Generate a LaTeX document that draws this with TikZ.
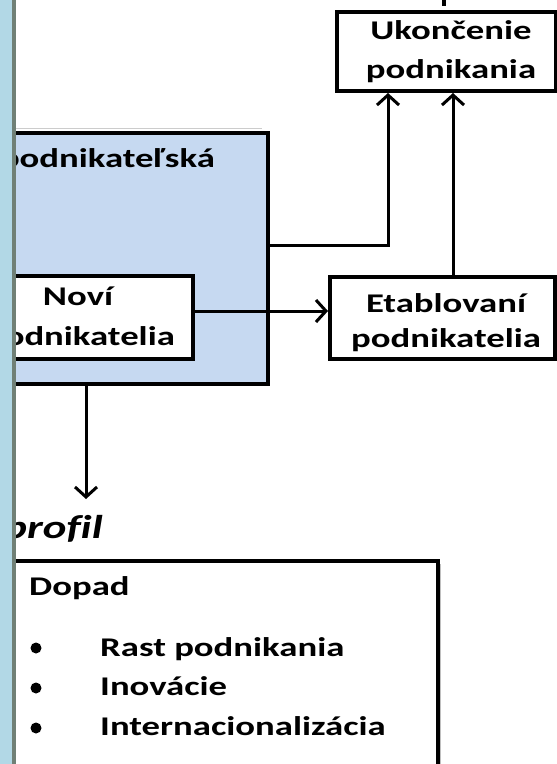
\documentclass[tikz,border=0pt]{standalone}
\usepackage{fontspec}
\setmainfont{Carlito}
\usetikzlibrary{arrows.meta}
\definecolor{boxblue}{RGB}{198,217,241}
\definecolor{stripblue}{RGB}{178,216,230}
\definecolor{stripgray}{RGB}{112,128,118}
\newcommand{\wtxt}[1]{\scalebox{1.36}[1]{#1}}
\begin{document}
\begin{tikzpicture}[x=1pt,y=-1pt,
  box/.style={draw=black, line width=4pt, fill=white, inner sep=0pt},
  conn/.style={line width=3pt, -{Straight Barb[length=10pt,width=22pt]}},
  lbl/.style={font=\bfseries\fontsize{27}{27}\selectfont, inner sep=0pt},
]
\useasboundingbox (0,0) rectangle (557,764);
\fill[white] (0,0) rectangle (557,764);
\fill[stripblue] (0,0) rectangle (12,764);
\fill[stripgray] (12,0) rectangle (16,764);
\begin{scope}
\clip (16,0) rectangle (557,764);
\fill[black] (442,0) rectangle (446,6);
\draw[black!20, line width=1pt] (16,128) -- (262,128);
% boxes
\node[box, fill=boxblue, minimum width=308pt, minimum height=251pt] (blue) at (114,258.5) {};
\node[box, minimum width=230pt, minimum height=83pt] (novi) at (78,317.5) {};
\node[box, minimum width=219pt, minimum height=79pt] (ukon) at (446.5,51.5) {};
\node[box, minimum width=225pt, minimum height=82pt] (etab) at (442.5,318) {};
\fill[black!25] (-37,564) rectangle (441,830);
\node[box, minimum width=478pt, minimum height=259pt] (dopad) at (199,690.5) {};
% connectors
\coordinate (down) at (86,499);
\draw[conn] (blue.east |- 0,245) -| (ukon.south -| 388,0);
\draw[conn] (etab.north -| 453,0) -- (ukon.south -| 453,0);
\draw[conn] (novi.east |- 0,311) -- (etab.west |- 0,311);
\draw[conn] (blue.south -| down) -- (down);
% texts
\node[lbl, anchor=base east] (t1) at (215,167) {\wtxt{podnikateľská}};
\node[lbl, anchor=base] (t2) at (78,305) {\wtxt{Noví}};
\node[lbl, anchor=base east] (t3) at (175,345) {\wtxt{podnikatelia}};
\node[lbl, anchor=base] (t4) at (451,39) {\wtxt{Ukončenie}};
\node[lbl, anchor=base] (t5) at (451,78) {\wtxt{podnikania}};
\node[lbl, anchor=base] (t6) at (446,312) {\wtxt{Etablovaní}};
\node[lbl, anchor=base] (t7) at (446,347) {\wtxt{podnikatelia}};
\node[font=\bfseries\itshape\fontsize{33}{33}\selectfont, inner sep=0pt, anchor=base east] (t8) at (103,538) {\wtxt{prof\kern0ptil}};
\node[lbl, anchor=base west] (t9) at (29,595) {\wtxt{Dopad}};
\fill (36,648) circle (5.5);
\fill (36,688) circle (5.5);
\fill (36,728) circle (5.5);
\node[lbl, anchor=base west] (i1) at (100,656) {\wtxt{Rast podnikania}};
\node[lbl, anchor=base west] (i2) at (100,695) {\wtxt{Inovácie}};
\node[lbl, anchor=base west] (i3) at (100,735) {\wtxt{Internacionalizácia}};
\end{scope}
\end{tikzpicture}
\end{document}
